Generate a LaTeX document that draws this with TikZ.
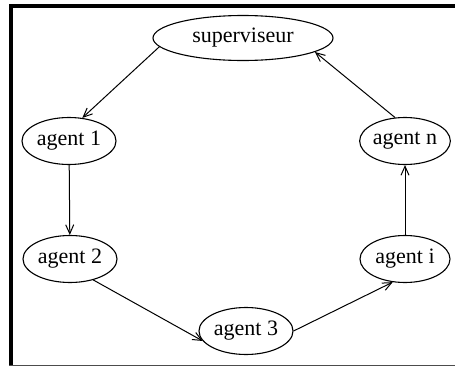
\documentclass[tikz,border=0pt]{standalone}
\usepackage{fontspec}
\setmainfont{Liberation Serif}
\usetikzlibrary{shapes.geometric,arrows.meta}
\begin{document}
\begin{tikzpicture}[x=1pt,y=-1pt,
  state/.style={ellipse,draw,line width=1.1pt,inner sep=0pt,
    minimum width=94pt,minimum height=47pt,font=\fontsize{22}{24}\selectfont},
  link/.style={line width=1pt,-{Straight Barb[length=9pt,width=8pt]}}]
  \useasboundingbox (0,0) rectangle (455,367);
  % frame
  \draw[line width=3.5pt] (9,6) -- (455,6);
  \draw[line width=4.5pt] (10.8,4) -- (10.8,365.5);
  \draw[line width=1pt,black!70] (9,365.5) -- (455,365.5);
  % nodes
  \node[state,minimum width=180pt,minimum height=45pt] (sup) at (243,38) {superviseur};
  \node[state] (a1) at (69,141) {agent 1};
  \node[state] (a2) at (70,259) {agent 2};
  \node[state] (a3) at (246,331) {agent 3};
  \node[state,minimum width=90pt] (ai) at (405,259) {agent i};
  \node[state,minimum width=90pt] (an) at (405,141) {agent n};
  % connectors
  \draw[link] (sup.186) -- (a1.60);
  \draw[link] (a1) -- (a2);
  \draw[link] (a2.318) -- (a3.193);
  \draw[link] (a3.0) -- (ai.242);
  \draw[link] (ai.north) -- (an.south);
  \draw[link] (an.113) -- (sup.349);
\end{tikzpicture}
\end{document}
